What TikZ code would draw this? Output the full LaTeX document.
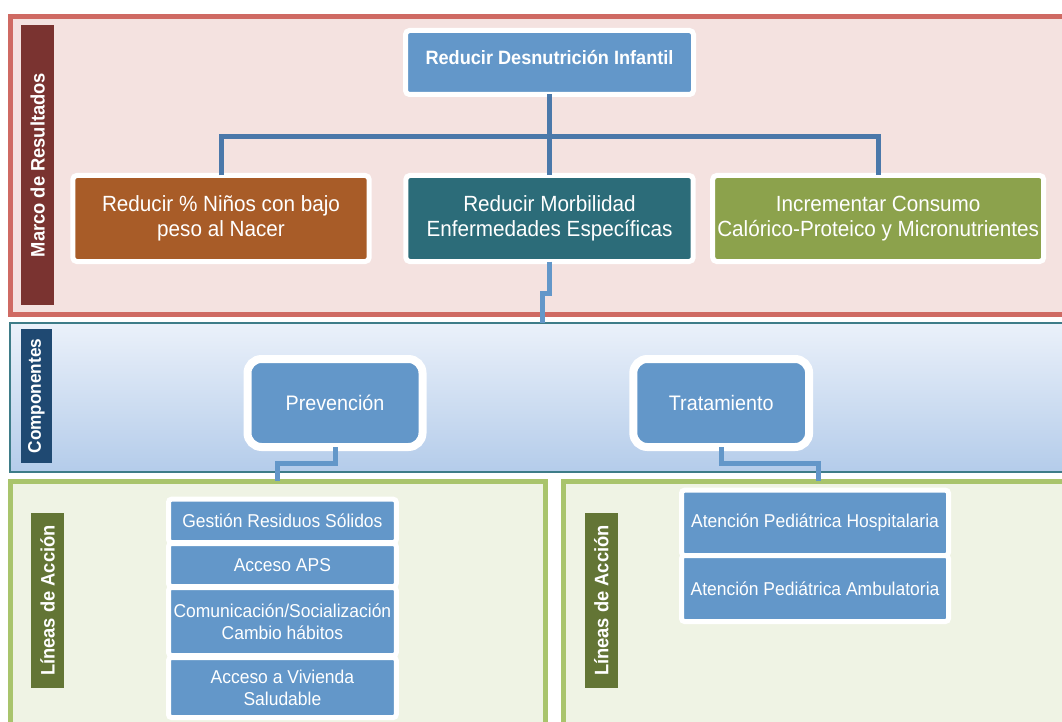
\documentclass[tikz,border=0pt]{standalone}
\usepackage{fontspec}
\setmainfont{Liberation Sans}[FakeStretch=0.94]
\usetikzlibrary{positioning}

\definecolor{redline}{HTML}{CF6A63}
\definecolor{redfill}{HTML}{F4E2E0}
\definecolor{marcobar}{HTML}{7A3330}
\definecolor{boxblue}{HTML}{6397C9}
\definecolor{linkblue}{HTML}{4A78AA}
\definecolor{brown}{HTML}{A85C28}
\definecolor{teal}{HTML}{2C6C79}
\definecolor{olive}{HTML}{8CA24C}
\definecolor{compline}{HTML}{3E7C88}
\definecolor{comptop}{HTML}{EBF1FA}
\definecolor{compbot}{HTML}{B4CCEA}
\definecolor{compbar}{HTML}{1F4972}
\definecolor{greenline}{HTML}{A9C46C}
\definecolor{greenfill}{HTML}{EFF3E4}
\definecolor{lineasbar}{HTML}{637535}

\begin{document}
\begin{tikzpicture}[
x=1pt, y=-1pt,
every node/.style={outer sep=0pt},
goal/.style={rectangle, rounded corners=4pt, draw=white, line width=5pt, fill=boxblue, text=white, font=\bfseries\fontsize{19.3}{23}\selectfont, minimum width=288pt, minimum height=64pt, text depth=11pt},
result/.style={rectangle, rounded corners=4pt, draw=white, line width=5pt, text=white, align=center, font=\fontsize{22}{25.5}\selectfont, minimum height=86pt},
comp/.style={rectangle, rounded corners=14pt, draw=white, line width=8pt, fill=boxblue, text=white, font=\fontsize{21}{25}\selectfont, minimum width=175pt, minimum height=88pt},
action/.style={rectangle, rounded corners=3pt, draw=white, line width=5pt, fill=boxblue, text=white, align=center, inner sep=0pt, font=\fontsize{18.6}{22}\selectfont},
tag/.style={rotate=90, text=white, inner sep=0pt, font=\bfseries\fontsize{19.5}{22}\selectfont},
link/.style={draw=linkblue, line width=5pt},
link2/.style={draw=boxblue, line width=5pt},
node distance=1pt
]
\useasboundingbox (0,0) rectangle (1062,722);
\clip (0,0) rectangle (1062,722);

%Panels
\draw[line width=5pt, draw=redline, fill=redfill] (10.3,16.7) rectangle (1080,314);
\draw[line width=2pt, draw=compline, top color=comptop, bottom color=compbot] (10,322.5) rectangle (1080,472);
\draw[line width=5pt, draw=greenline, fill=greenfill] (10.3,481) rectangle (545,740);
\draw[line width=5pt, draw=greenline, fill=greenfill] (563.5,481) rectangle (1080,740);

%Tags
\node[tag, fill=marcobar, minimum width=280pt, minimum height=32.6pt]  (tagR)  at (37.7,165)   {Marco de Resultados};
\node[tag, fill=compbar, minimum width=134pt, minimum height=30.3pt, font=\bfseries\fontsize{18.3}{22}\selectfont] (tagC) at (36.5,396) {Componentes};
\node[tag, fill=lineasbar, minimum width=175pt, minimum height=33pt]   (tagL1) at (47.5,600.5)  {Líneas de Acción};
\node[tag, fill=lineasbar, minimum width=175pt, minimum height=32.7pt] (tagL2) at (601.3,600.5) {Líneas de Acción};

%Nodes
\node[goal]                              (goal) at (549.5,62.5)   {Reducir Desnutrición Infantil};
\node[result, fill=teal, minimum width=287.4pt]  (res2) [below=81pt of goal] {Reducir Morbilidad\\Enfermedades Específicas};
\node[result, fill=brown, minimum width=296.4pt] (res1) [left=36.6pt of res2]  {Reducir \% Niños con bajo\\peso al Nacer};
\node[result, fill=olive, minimum width=331pt]   (res3) [right=19.5pt of res2] {Incrementar Consumo\\Calórico-Proteico y Micronutrientes};

\node[comp]                              (prev) at (335,403)      {Prevención};
\node[comp, minimum width=175.8pt]       (trat) [right=210.8pt of prev] {Tratamiento};

\node[action, minimum width=227.8pt, minimum height=43.3pt] (act1) at (282.4,520.85) {Gestión Residuos Sólidos};
\node[action, minimum width=227.8pt, minimum height=43pt]   (act2) [below=of act1]     {Acceso APS};
\node[action, minimum width=227.8pt, minimum height=68pt]   (act3) [below=of act2]     {Comunicación/Socialización\\Cambio hábitos};
\node[action, minimum width=227.8pt, minimum height=60pt]   (act4) [below=2pt of act3] {Acceso a Vivienda\\Saludable};

\node[action, minimum width=267pt, minimum height=65.3pt]   (act5) at (815,522.85)     {Atención Pediátrica Hospitalaria};
\node[action, minimum width=267pt, minimum height=66pt]     (act6) [below=0pt of act5] {Atención Pediátrica Ambulatoria};

\coordinate (cin)  at (542,323);
\coordinate (lin1) at (277,481);
\coordinate (lin2) at (818,481);

%Lines
\draw[link] (res1.north) -- ++(0,-38.5) -| (res3.north);
\draw[link] (goal.south) -- (goal.south |- res2.north);
\draw[link2] (res2.south) -- ++(0,31.5) -| (cin);
\draw[link2] (prev.south) -- ++(0,16) -| (lin1);
\draw[link2] (trat.south) -- ++(0,16) -| (lin2);
\end{tikzpicture}
\end{document}
